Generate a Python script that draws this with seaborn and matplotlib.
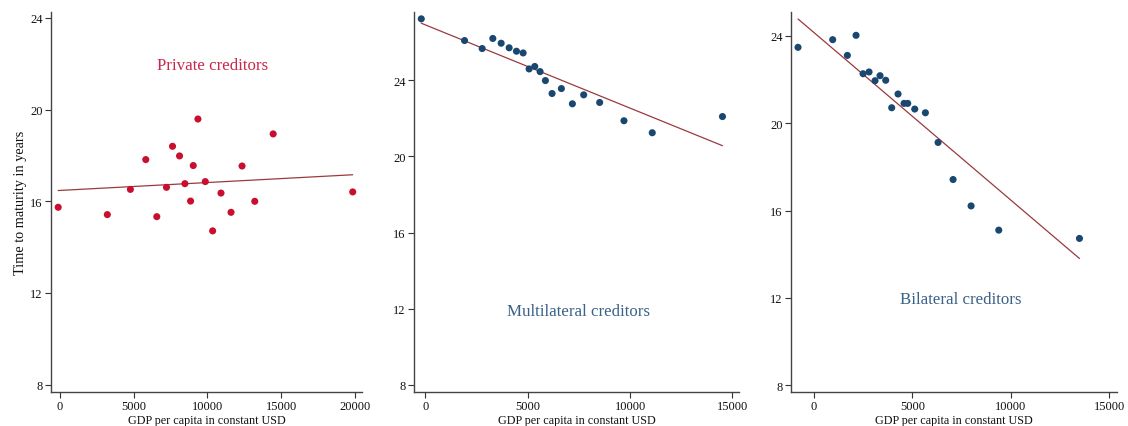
import numpy as np
import pandas as pd
import matplotlib
matplotlib.use("Agg")
import matplotlib.pyplot as plt
import seaborn as sns

sns.set_theme(style="ticks")
plt.rcParams['font.family'] = ['Liberation Serif', 'DejaVu Serif']

# ---- Data ----
private_gdp = [-113, 3216, 4779, 5821, 6568, 7225, 7633, 8109, 8471, 8856,
               9037, 9354, 9853, 10351, 10917, 11597, 12344, 13205, 14451, 19841]
private_mat = [15.74, 15.42, 16.52, 17.82, 15.33, 16.61, 18.40, 17.98, 16.77, 16.01,
               17.56, 19.59, 16.86, 14.71, 16.36, 15.52, 17.54, 16.00, 18.94, 16.41]

multi_gdp = [-195, 1918, 2779, 3299, 3705, 4096, 4453, 4778, 5071, 5347,
             5607, 5867, 6192, 6647, 7184, 7736, 8516, 9703, 11084, 14513]
multi_mat = [27.22, 26.08, 25.66, 26.19, 25.94, 25.70, 25.52, 25.43, 24.59, 24.72,
             24.45, 23.98, 23.30, 23.56, 22.76, 23.23, 22.83, 21.87, 21.24, 22.09]

bilat_gdp = [-814, 949, 1695, 2136, 2492, 2797, 3102, 3356, 3644, 3949,
             4271, 4576, 4763, 5119, 5661, 6305, 7068, 7983, 9390, 13492]
bilat_mat = [23.48, 23.83, 23.11, 24.03, 22.27, 22.35, 21.95, 22.18, 21.97, 20.71,
             21.34, 20.91, 20.91, 20.65, 20.48, 19.12, 17.42, 16.21, 15.10, 14.72]

# fitted lines (intercept, slope)
fit_private = (16.474, 3.45e-5)
fit_multi = (26.905, -4.372e-4)
fit_bilat = (24.155, -7.675e-4)

titles = ["Private creditors", "Multilateral creditors", "Bilateral creditors"]
y_ticks = [8, 12, 16, 20, 24]
x_ticks_list = [[0, 5000, 10000, 15000, 20000], [0, 5000, 10000, 15000], [0, 5000, 10000, 15000]]

# ---- Styling ----
red = "#C8102E"
navy = "#1A476F"
line_col = "#9A3A3F"
title_cols = ["#C8264A", "#3A6189", "#3A6189"]

fig = plt.figure(figsize=(11.28, 4.27), dpi=100)
positions = [
    [51/1128, 0.0796, 311/1128, 0.890],
    [414/1128, 0.0796, 325/1128, 0.890],
    [791/1128, 0.0796, 326/1128, 0.890],
]
xlims = [(-600, 20470), (-550, 15320), (-1170, 15400)]
ylims = [(7.68, 24.26), (7.63, 27.58), (7.68, 25.10)]
title_pos = [(10338, 21.96), (7490, 11.9), (7477, 11.94)]

panels = [
    (private_gdp, private_mat, fit_private, red),
    (multi_gdp, multi_mat, fit_multi, navy),
    (bilat_gdp, bilat_mat, fit_bilat, navy),
]

for i, (gx, my, fit, col) in enumerate(panels):
    ax = fig.add_axes(positions[i])
    df = pd.DataFrame({"gdp": gx, "mat": my})
    sns.scatterplot(data=df, x="gdp", y="mat", ax=ax, color=col, s=26,
                    edgecolor="none", linewidth=0, zorder=3)
    xs = np.array([min(gx), max(gx)], dtype=float)
    lf = pd.DataFrame({"gdp": xs, "fit": fit[0] + fit[1] * xs})
    sns.lineplot(data=lf, x="gdp", y="fit", ax=ax, color=line_col, linewidth=0.9, zorder=2)
    ax.set_xlim(*xlims[i])
    ax.set_ylim(*ylims[i])
    ax.set_xticks(x_ticks_list[i])
    ax.set_yticks(y_ticks)
    ax.set_xticklabels([str(t) for t in x_ticks_list[i]], fontsize=9)
    ax.set_yticklabels([str(t) for t in y_ticks], fontsize=9)
    ax.tick_params(axis="both", direction="out", length=4, width=0.8, color="#333333",
                   labelcolor="#111111", pad=2)
    for s in ["top", "right"]:
        ax.spines[s].set_visible(False)
    for s in ["left", "bottom"]:
        ax.spines[s].set_color("#444444")
        ax.spines[s].set_linewidth(1.0)
    ax.set_xlabel("GDP per capita in constant USD", fontsize=8.7, color="#111111", labelpad=1)
    if i == 0:
        ax.set_ylabel("Time to maturity in years", fontsize=10.3, color="#111111", labelpad=2)
    else:
        ax.set_ylabel("")
    ax.text(title_pos[i][0], title_pos[i][1], titles[i], color=title_cols[i],
            fontsize=12.2, ha="center", va="center")

fig.savefig("out.png", dpi=100)
